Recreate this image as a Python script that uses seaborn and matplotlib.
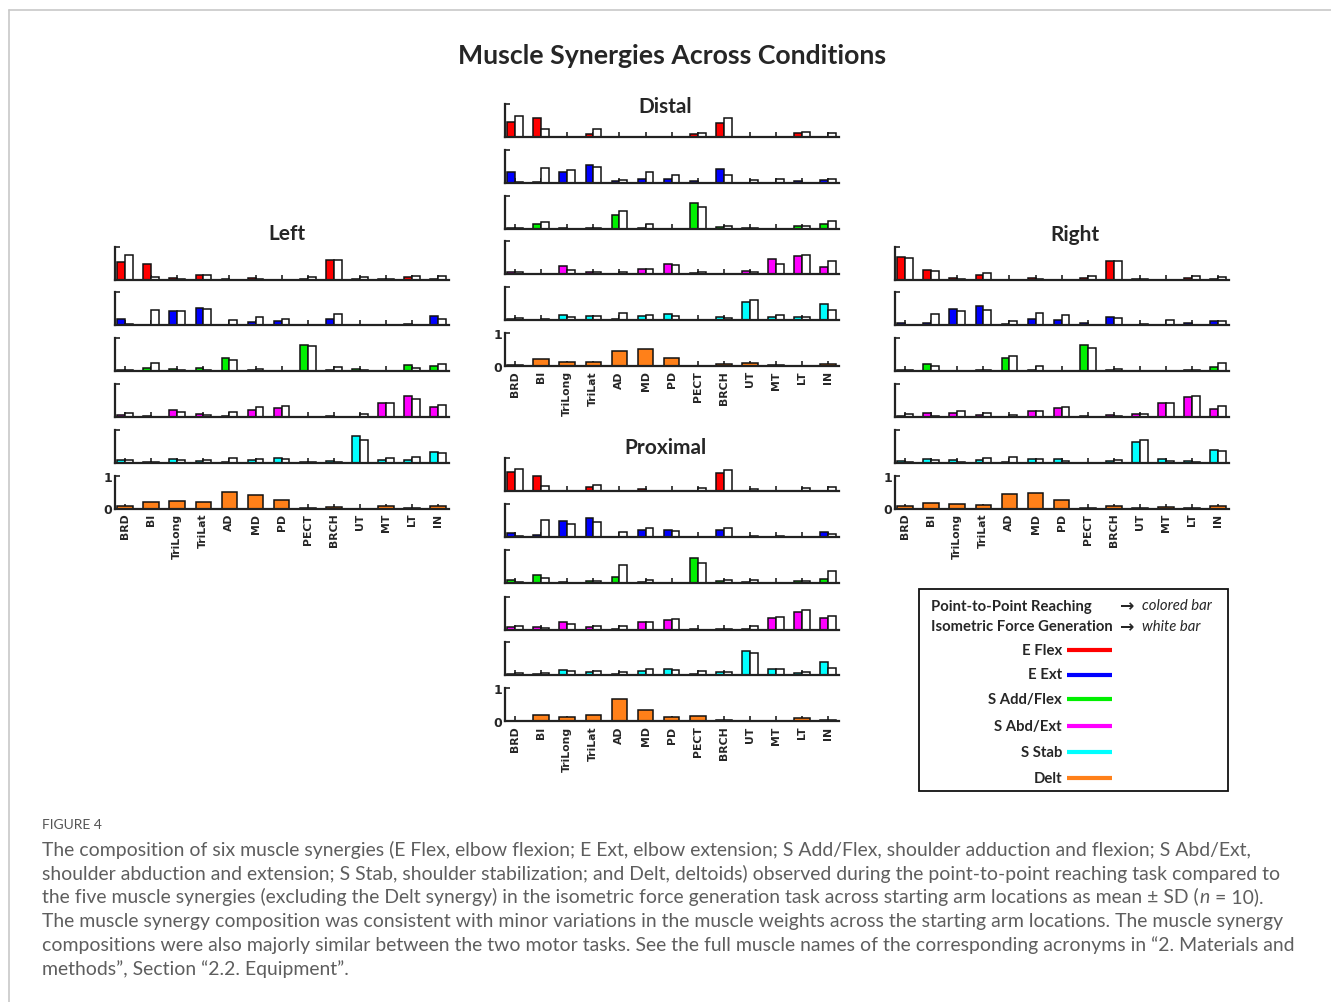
import numpy as np
import pandas as pd
import matplotlib
matplotlib.use("Agg")
import matplotlib.pyplot as plt
from matplotlib.patches import Rectangle
from matplotlib.lines import Line2D
import seaborn as sns

W, H = 1331, 1003

muscles = ["BRD", "BI", "TriLong", "TriLat", "AD", "MD", "PD",
           "PECT", "BRCH", "UT", "MT", "LT", "IN"]
synergy_names = ["E Flex", "E Ext", "S Add/Flex", "S Abd/Ext", "S Stab", "Delt"]
synergy_colors = ["#FF0000", "#0000FF", "#00F000", "#FF00FF", "#00FFFF", "#FF8019"]
task_reach = "Point-to-Point Reaching"
task_iso = "Isometric Force Generation"

# ---- Left arm location ----
left_e_flex_reach = [0.54, 0.46, 0.06, 0.15, 0.01, 0.04, 0.00, 0.03, 0.58, 0.01, 0.01, 0.07, 0.03]
left_e_flex_iso = [0.73, 0.09, 0.03, 0.14, 0.00, 0.01, 0.00, 0.07, 0.58, 0.08, 0.01, 0.12, 0.11]
left_e_ext_reach = [0.18, 0.02, 0.43, 0.51, 0.02, 0.10, 0.14, 0.01, 0.20, 0.02, 0.02, 0.05, 0.28]
left_e_ext_iso = [0.05, 0.45, 0.43, 0.50, 0.17, 0.25, 0.19, 0.01, 0.35, 0.01, 0.02, 0.01, 0.18]
left_s_addflex_reach = [0.03, 0.10, 0.05, 0.10, 0.39, 0.03, 0.00, 0.80, 0.04, 0.05, 0.01, 0.18, 0.15]
left_s_addflex_iso = [0.02, 0.26, 0.04, 0.04, 0.35, 0.06, 0.00, 0.76, 0.13, 0.03, 0.01, 0.09, 0.22]
left_s_abdext_reach = [0.06, 0.02, 0.22, 0.08, 0.04, 0.21, 0.27, 0.01, 0.02, 0.01, 0.42, 0.63, 0.29]
left_s_abdext_iso = [0.12, 0.01, 0.14, 0.06, 0.16, 0.29, 0.32, 0.00, 0.01, 0.08, 0.43, 0.54, 0.35]
left_s_stab_reach = [0.07, 0.03, 0.10, 0.06, 0.01, 0.08, 0.14, 0.01, 0.05, 0.80, 0.08, 0.08, 0.33]
left_s_stab_iso = [0.07, 0.01, 0.08, 0.09, 0.15, 0.12, 0.11, 0.01, 0.02, 0.69, 0.14, 0.16, 0.30]
left_delt_reach = [0.09, 0.21, 0.22, 0.20, 0.50, 0.42, 0.27, 0.02, 0.05, 0.00, 0.07, 0.01, 0.09]

# ---- Distal arm location ----
distal_e_flex_reach = [0.47, 0.57, 0.02, 0.10, 0.01, 0.02, 0.00, 0.11, 0.43, 0.01, 0.00, 0.13, 0.01]
distal_e_flex_iso = [0.66, 0.24, 0.01, 0.25, 0.00, 0.01, 0.00, 0.13, 0.59, 0.01, 0.00, 0.15, 0.13]
distal_e_ext_reach = [0.32, 0.02, 0.32, 0.56, 0.06, 0.12, 0.11, 0.06, 0.42, 0.01, 0.01, 0.06, 0.09]
distal_e_ext_iso = [0.02, 0.44, 0.39, 0.48, 0.10, 0.33, 0.24, 0.01, 0.24, 0.10, 0.11, 0.01, 0.13]
distal_s_addflex_reach = [0.03, 0.14, 0.01, 0.02, 0.42, 0.01, 0.00, 0.78, 0.06, 0.02, 0.00, 0.07, 0.15]
distal_s_addflex_iso = [0.02, 0.21, 0.00, 0.01, 0.53, 0.14, 0.00, 0.64, 0.07, 0.01, 0.00, 0.07, 0.24]
distal_s_abdext_reach = [0.05, 0.01, 0.25, 0.05, 0.01, 0.15, 0.30, 0.02, 0.01, 0.09, 0.45, 0.55, 0.22]
distal_s_abdext_iso = [0.06, 0.01, 0.13, 0.07, 0.07, 0.15, 0.26, 0.05, 0.01, 0.07, 0.31, 0.58, 0.38]
distal_s_stab_reach = [0.02, 0.01, 0.16, 0.11, 0.02, 0.12, 0.18, 0.01, 0.10, 0.56, 0.08, 0.08, 0.48]
distal_s_stab_iso = [0.07, 0.02, 0.10, 0.13, 0.20, 0.15, 0.12, 0.00, 0.05, 0.61, 0.16, 0.10, 0.30]
distal_delt_reach = [0.04, 0.20, 0.12, 0.13, 0.46, 0.52, 0.25, 0.01, 0.05, 0.09, 0.04, 0.00, 0.07]

# ---- Proximal arm location ----
proximal_e_flex_reach = [0.57, 0.45, 0.02, 0.14, 0.00, 0.07, 0.00, 0.00, 0.55, 0.01, 0.00, 0.02, 0.02]
proximal_e_flex_iso = [0.67, 0.15, 0.01, 0.20, 0.00, 0.00, 0.00, 0.11, 0.64, 0.08, 0.00, 0.10, 0.12]
proximal_e_ext_reach = [0.13, 0.06, 0.49, 0.57, 0.02, 0.22, 0.22, 0.00, 0.21, 0.02, 0.02, 0.01, 0.15]
proximal_e_ext_iso = [0.03, 0.53, 0.39, 0.46, 0.15, 0.29, 0.18, 0.00, 0.27, 0.03, 0.03, 0.01, 0.11]
proximal_s_addflex_reach = [0.09, 0.25, 0.02, 0.07, 0.18, 0.04, 0.00, 0.76, 0.07, 0.03, 0.01, 0.07, 0.12]
proximal_s_addflex_iso = [0.02, 0.14, 0.01, 0.05, 0.55, 0.09, 0.00, 0.62, 0.09, 0.08, 0.00, 0.05, 0.35]
proximal_s_abdext_reach = [0.07, 0.07, 0.23, 0.07, 0.02, 0.22, 0.29, 0.01, 0.02, 0.01, 0.36, 0.54, 0.35]
proximal_s_abdext_iso = [0.10, 0.04, 0.17, 0.11, 0.10, 0.22, 0.32, 0.00, 0.01, 0.11, 0.38, 0.59, 0.42]
proximal_s_stab_reach = [0.04, 0.03, 0.14, 0.10, 0.04, 0.13, 0.19, 0.02, 0.09, 0.73, 0.18, 0.07, 0.39]
proximal_s_stab_iso = [0.07, 0.07, 0.12, 0.13, 0.09, 0.19, 0.15, 0.11, 0.08, 0.66, 0.18, 0.08, 0.21]
proximal_delt_reach = [0.02, 0.19, 0.13, 0.19, 0.69, 0.34, 0.14, 0.17, 0.03, 0.01, 0.02, 0.09, 0.04]

# ---- Right arm location ----
right_e_flex_reach = [0.68, 0.30, 0.06, 0.13, 0.00, 0.06, 0.00, 0.06, 0.55, 0.03, 0.00, 0.06, 0.02]
right_e_flex_iso = [0.66, 0.25, 0.02, 0.20, 0.00, 0.01, 0.00, 0.11, 0.57, 0.01, 0.00, 0.12, 0.08]
right_e_ext_reach = [0.08, 0.06, 0.48, 0.58, 0.05, 0.18, 0.17, 0.07, 0.26, 0.02, 0.01, 0.07, 0.14]
right_e_ext_iso = [0.02, 0.35, 0.43, 0.46, 0.12, 0.36, 0.31, 0.00, 0.23, 0.05, 0.15, 0.01, 0.14]
right_s_addflex_reach = [0.02, 0.22, 0.01, 0.04, 0.39, 0.03, 0.00, 0.78, 0.02, 0.01, 0.00, 0.04, 0.13]
right_s_addflex_iso = [0.04, 0.16, 0.00, 0.02, 0.47, 0.16, 0.00, 0.69, 0.06, 0.00, 0.00, 0.02, 0.24]
right_s_abdext_reach = [0.03, 0.13, 0.12, 0.07, 0.01, 0.18, 0.26, 0.02, 0.07, 0.10, 0.42, 0.59, 0.24]
right_s_abdext_iso = [0.08, 0.03, 0.17, 0.11, 0.06, 0.18, 0.30, 0.01, 0.02, 0.10, 0.42, 0.64, 0.34]
right_s_stab_reach = [0.06, 0.10, 0.08, 0.08, 0.01, 0.11, 0.12, 0.00, 0.05, 0.64, 0.12, 0.06, 0.40]
right_s_stab_iso = [0.03, 0.08, 0.02, 0.13, 0.18, 0.12, 0.05, 0.00, 0.07, 0.70, 0.06, 0.03, 0.35]
right_delt_reach = [0.07, 0.18, 0.14, 0.11, 0.45, 0.48, 0.25, 0.01, 0.07, 0.01, 0.06, 0.01, 0.08]

panels = {
    "Left": [
        (left_e_flex_reach, left_e_flex_iso), (left_e_ext_reach, left_e_ext_iso),
        (left_s_addflex_reach, left_s_addflex_iso), (left_s_abdext_reach, left_s_abdext_iso),
        (left_s_stab_reach, left_s_stab_iso), (left_delt_reach, None)],
    "Distal": [
        (distal_e_flex_reach, distal_e_flex_iso), (distal_e_ext_reach, distal_e_ext_iso),
        (distal_s_addflex_reach, distal_s_addflex_iso), (distal_s_abdext_reach, distal_s_abdext_iso),
        (distal_s_stab_reach, distal_s_stab_iso), (distal_delt_reach, None)],
    "Proximal": [
        (proximal_e_flex_reach, proximal_e_flex_iso), (proximal_e_ext_reach, proximal_e_ext_iso),
        (proximal_s_addflex_reach, proximal_s_addflex_iso), (proximal_s_abdext_reach, proximal_s_abdext_iso),
        (proximal_s_stab_reach, proximal_s_stab_iso), (proximal_delt_reach, None)],
    "Right": [
        (right_e_flex_reach, right_e_flex_iso), (right_e_ext_reach, right_e_ext_iso),
        (right_s_addflex_reach, right_s_addflex_iso), (right_s_abdext_reach, right_s_abdext_iso),
        (right_s_stab_reach, right_s_stab_iso), (right_delt_reach, None)],
}

# panel geometry in pixels: (spine x, axis end x, row baselines, title centre)
side_rows = [280.5, 326.3, 372.1, 417.9, 463.7, 509.5]
layout = {
    "Left": (114.7, 449.3, side_rows, (287, 234)),
    "Right": (894.7, 1229.3, side_rows, (1075, 235)),
    "Distal": (504.7, 839.3, [138.3, 184.0, 229.5, 275.0, 321.0, 367.0], (665, 107)),
    "Proximal": (504.7, 839.3, [492.3, 538.3, 584.0, 630.7, 676.0, 722.3], (665, 448)),
}
ROW_H = 33

sns.set_style("white")
plt.rcParams["font.family"] = ["DejaVu Sans"]

fig = plt.figure(figsize=(W / 100, H / 100), dpi=100)
fig.patch.set_facecolor("white")
renderer = fig.canvas.get_renderer()

HEAD = ["Lato", "DejaVu Sans"]
BODY = ["Lato", "DejaVu Sans"]


def fy(y):
    return 1 - y / H


def fit_size(s, target, base=10, **kw):
    t = fig.text(0, 0, s, fontsize=base, **kw)
    w = t.get_window_extent(renderer).width
    t.remove()
    return base * target / w


def draw_row(ax, reach, iso, color, bottom_row):
    frames = [pd.DataFrame({"muscle": muscles, "weight": reach, "task": task_reach})]
    if iso is not None:
        frames.append(pd.DataFrame({"muscle": muscles, "weight": iso, "task": task_iso}))
    df = pd.concat(frames, ignore_index=True)
    sns.barplot(data=df, x="muscle", y="weight", hue="task", order=muscles,
                hue_order=[task_reach, task_iso],
                palette={task_reach: color, task_iso: "white"},
                width=0.6, gap=0, saturation=1, edgecolor="#111111", linewidth=1.1,
                errorbar=None, legend=False, ax=ax)
    ax.set_xlim(-0.4, 12.43)
    ax.set_ylim(0, 1)
    ax.set_xlabel("")
    ax.set_ylabel("")
    ax.set_facecolor("none")
    for side in ("top", "right"):
        ax.spines[side].set_visible(False)
    for side in ("left", "bottom"):
        ax.spines[side].set_linewidth(1.6)
        ax.spines[side].set_color("#222222")
    ax.set_xticks(range(len(muscles)))
    ax.set_yticks([0, 1])
    ax.tick_params(axis="both", direction="in", length=3.5, width=1.2, color="#222222",
                   bottom=True, left=True)
    if bottom_row:
        ax.set_xticklabels(muscles, rotation=90, fontsize=7.8, fontweight="bold",
                           va="top", ha="center")
        ax.set_yticklabels(["0", "1"], fontsize=9, fontweight="bold")
        ax.tick_params(axis="x", pad=3)
        ax.tick_params(axis="y", pad=2)
    else:
        ax.tick_params(labelbottom=False, labelleft=False)


title_size = fit_size("Proximal", 82, family=HEAD, fontweight="bold")
for name, rows in panels.items():
    x0, x1, bases, (tx, ty) = layout[name]
    for i, (reach, iso) in enumerate(rows):
        ax = fig.add_axes([x0 / W, fy(bases[i]), (x1 - x0) / W, ROW_H / H])
        draw_row(ax, reach, iso, synergy_colors[i], i == len(rows) - 1)
    fig.text(tx / W, fy(ty), name, ha="center", va="center", fontsize=title_size,
             fontweight="bold", family=HEAD)

# main title
main = "Muscle Synergies Across Conditions"
fig.text(672 / W, fy(56), main, ha="center", va="center",
         fontsize=fit_size(main, 429, family=HEAD, fontweight="bold"),
         fontweight="bold", family=HEAD)

# legend box
fig.add_artist(Rectangle((919 / W, fy(792)), (1227.5 - 919) / W, (792 - 590) / H,
                         transform=fig.transFigure, fill=False, edgecolor="#111111", lw=1.3))
leg_size = fit_size(task_iso, 182, family=HEAD, fontweight="bold")
for txt, yy, desc in [(task_reach, 606.5, "colored bar"), (task_iso, 627.3, "white bar")]:
    fig.text(930.5 / W, fy(yy), txt, ha="left", va="center", fontsize=leg_size,
             fontweight="bold", family=HEAD)
    fig.text(1119 / W, fy(yy), "\u2192", ha="left", va="center", fontsize=leg_size * 1.15,
             fontweight="bold", family=["DejaVu Sans"])
    fig.text(1142 / W, fy(yy), desc, ha="left", va="center", fontsize=leg_size,
             style="italic", family=HEAD)
for name, color, yy in zip(synergy_names, synergy_colors,
                           [650.7, 675.5, 700.3, 726.7, 752.7, 779.3]):
    fig.text(1062 / W, fy(yy), name, ha="right", va="center", fontsize=leg_size,
             fontweight="bold", family=HEAD)
    fig.add_artist(Line2D([1067 / W, 1112 / W], [fy(yy), fy(yy)], color=color,
                          lw=3.0, transform=fig.transFigure, solid_capstyle="butt"))

# frame around the figure
fig.add_artist(Line2D([9 / W, 1], [fy(11), fy(11)], color="#c8c8c8", lw=1.2,
                      transform=fig.transFigure))
fig.add_artist(Line2D([9 / W, 9 / W], [fy(11), 0], color="#c8c8c8", lw=1.2,
                      transform=fig.transFigure))

# caption
cap_color = "#5e5e5e"
fig.text(42 / W, fy(829), "FIGURE 4", ha="left", va="baseline", fontsize=10,
         color="#555555", family=BODY)
cap_lines = [
    "The composition of six muscle synergies (E Flex, elbow flexion; E Ext, elbow extension; S Add/Flex, shoulder adduction and flexion; S Abd/Ext,",
    "shoulder abduction and extension; S Stab, shoulder stabilization; and Delt, deltoids) observed during the point-to-point reaching task compared to",
    None,
    "The muscle synergy composition was consistent with minor variations in the muscle weights across the starting arm locations. The muscle synergy",
    "compositions were also majorly similar between the two motor tasks. See the full muscle names of the corresponding acronyms in \u201c2. Materials and",
    "methods\u201d, Section \u201c2.2. Equipment\u201d.",
]
cap_size = fit_size(cap_lines[4], 1297 - 42, family=BODY, fontweight="normal")
cap_kw = dict(fontsize=cap_size, color=cap_color, family=BODY, fontweight="normal",
              ha="left", va="baseline")
baselines = [856, 880, 903.5, 927, 951, 975]
for line, yb in zip(cap_lines, baselines):
    if line is not None:
        fig.text(42 / W, fy(yb), line, **cap_kw)

# third caption line with italic sample size
yb = baselines[2]
part1 = "the five muscle synergies (excluding the Delt synergy) in the isometric force generation task across starting arm locations as mean \u00b1 SD ("
t1 = fig.text(42 / W, fy(yb), part1, **cap_kw)
x = 42 + t1.get_window_extent(renderer).width + 1
t2 = fig.text(x / W, fy(yb), "n", **{**cap_kw, "style": "italic"})
x += t2.get_window_extent(renderer).width
space_w = cap_size * 100 / 72 * 0.25
fig.text((x + space_w) / W, fy(yb), "= 10).", **cap_kw)

fig.savefig("out.png", dpi=100, facecolor="white")
